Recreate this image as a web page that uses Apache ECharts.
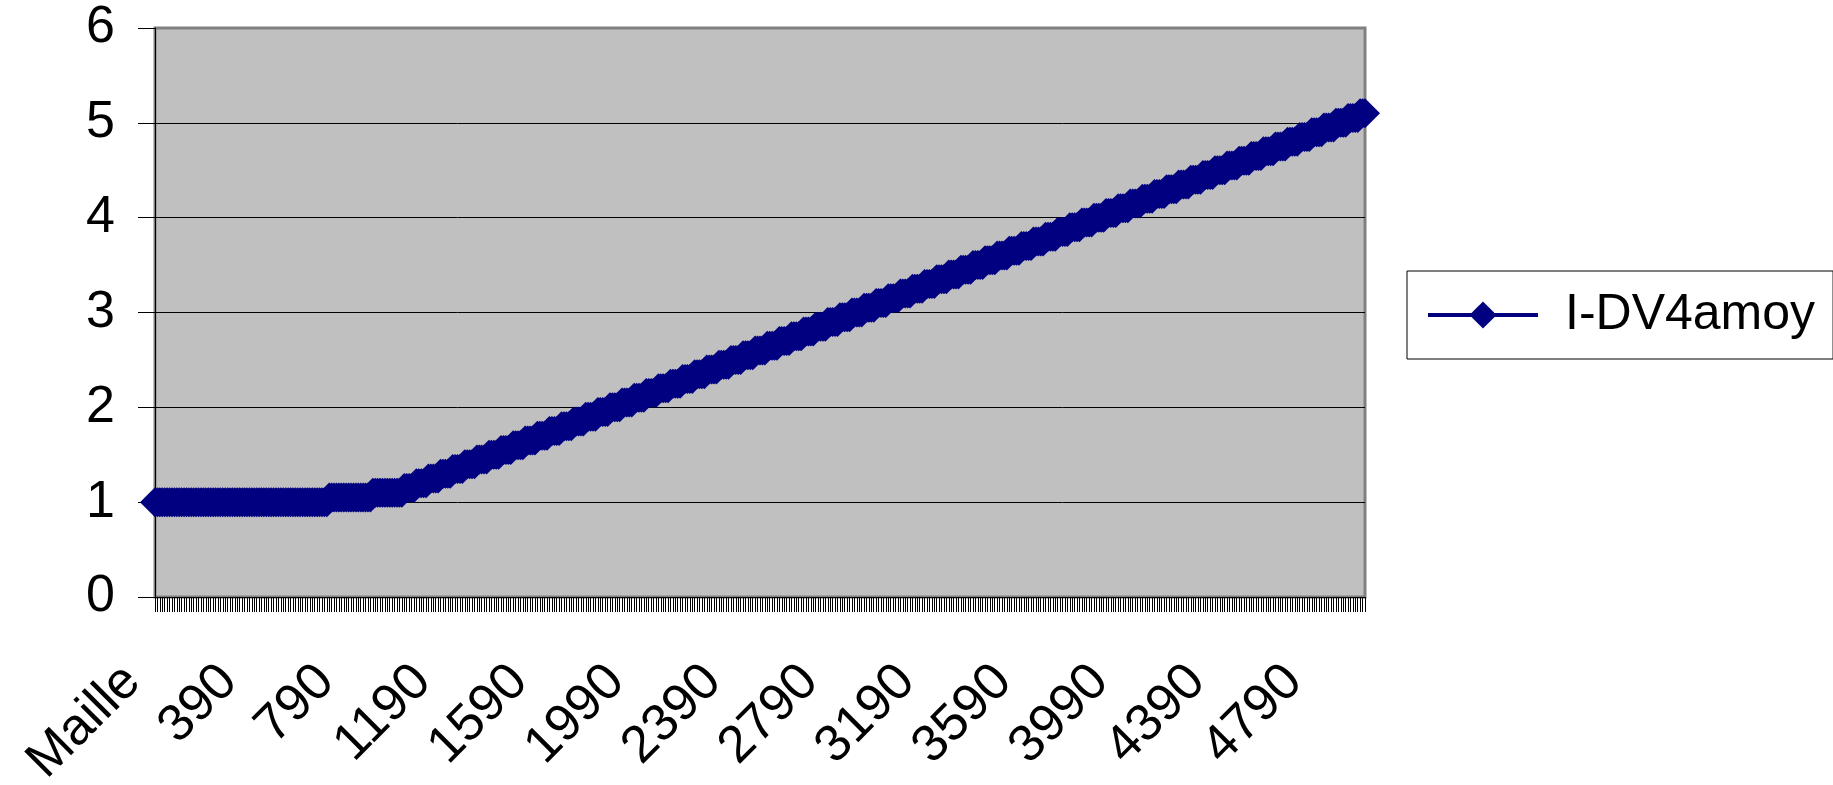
<!DOCTYPE html>
<html>
<head>
<meta charset="utf-8">
<script src="https://cdn.jsdelivr.net/npm/echarts@6/dist/echarts.min.js"></script>
<style>
  html, body { margin: 0; padding: 0; background: #ffffff; }
  #chart { width: 1833px; height: 785px; }
</style>
</head>
<body>
<div id="chart"></div>
<script>
// Mesh positions along the x axis: header cell followed by cells 0, 10, 20 ... 4990
const premiereCategorie = 'Maille';
const pasMaille = 10;
const nbMailles = 500;
const categories = [premiereCategorie];
for (let i = 0; i < nbMailles; i++) categories.push(String(i * pasMaille));

// I-DV4amoy value per mesh cell
const valeurs = [
  1,
  1,1,1,1,1,1,1,1,1,1,
  1,1,1,1,1,1,1,1,1,1,
  1,1,1,1,1,1,1,1,1,1,
  1,1,1,1,1,1,1,1,1,1,
  1,1,1,1,1,1,1,1,1,1,
  1,1,1,1,1,1,1,1,1,1,
  1,1,1,1,1,1,1,1,1,1,
  1,
  1.05,1.05,1.05,1.05,1.05,1.05,1.05,1.05,1.05,1.05,
  1.05,1.05,1.05,1.05,1.05,1.05,1.05,1.05,
  1.1,1.1,1.1,1.1,1.1,1.1,1.1,1.1,1.1,1.1,1.1,1.1,1.1,
  1.15,1.15,1.15,1.15,1.15, 1.2,1.2,1.2,1.2,1.2,
  1.25,1.25,1.25,1.25,1.25, 1.3,1.3,1.3,1.3,1.3,
  1.35,1.35,1.35,1.35,1.35, 1.4,1.4,1.4,1.4,1.4,
  1.45,1.45,1.45,1.45,1.45, 1.5,1.5,1.5,1.5,1.5,
  1.55,1.55,1.55,1.55,1.55, 1.6,1.6,1.6,1.6,1.6,
  1.65,1.65,1.65,1.65,1.65, 1.7,1.7,1.7,1.7,1.7,
  1.75,1.75,1.75,1.75,1.75, 1.8,1.8,1.8,1.8,1.8,
  1.85,1.85,1.85,1.85,1.85, 1.9,1.9,1.9,1.9,1.9,
  1.95,1.95,1.95,1.95,1.95, 2,2,2,2,2,
  2.05,2.05,2.05,2.05,2.05, 2.1,2.1,2.1,2.1,2.1,
  2.15,2.15,2.15,2.15,2.15, 2.2,2.2,2.2,2.2,2.2,
  2.25,2.25,2.25,2.25,2.25, 2.3,2.3,2.3,2.3,2.3,
  2.35,2.35,2.35,2.35,2.35, 2.4,2.4,2.4,2.4,2.4,
  2.45,2.45,2.45,2.45,2.45, 2.5,2.5,2.5,2.5,2.5,
  2.55,2.55,2.55,2.55,2.55, 2.6,2.6,2.6,2.6,2.6,
  2.65,2.65,2.65,2.65,2.65, 2.7,2.7,2.7,2.7,2.7,
  2.75,2.75,2.75,2.75,2.75, 2.8,2.8,2.8,2.8,2.8,
  2.85,2.85,2.85,2.85,2.85, 2.9,2.9,2.9,2.9,2.9,
  2.95,2.95,2.95,2.95,2.95, 3,3,3,3,3,
  3.05,3.05,3.05,3.05,3.05, 3.1,3.1,3.1,3.1,3.1,
  3.15,3.15,3.15,3.15,3.15, 3.2,3.2,3.2,3.2,3.2,
  3.25,3.25,3.25,3.25,3.25, 3.3,3.3,3.3,3.3,3.3,
  3.35,3.35,3.35,3.35,3.35, 3.4,3.4,3.4,3.4,3.4,
  3.45,3.45,3.45,3.45,3.45, 3.5,3.5,3.5,3.5,3.5,
  3.55,3.55,3.55,3.55,3.55, 3.6,3.6,3.6,3.6,3.6,
  3.65,3.65,3.65,3.65,3.65, 3.7,3.7,3.7,3.7,3.7,
  3.75,3.75,3.75,3.75,3.75, 3.8,3.8,3.8,3.8,3.8,
  3.85,3.85,3.85,3.85,3.85, 3.9,3.9,3.9,3.9,3.9,
  3.95,3.95,3.95,3.95,3.95, 4,4,4,4,4,
  4.05,4.05,4.05,4.05,4.05, 4.1,4.1,4.1,4.1,4.1,
  4.15,4.15,4.15,4.15,4.15, 4.2,4.2,4.2,4.2,4.2,
  4.25,4.25,4.25,4.25,4.25, 4.3,4.3,4.3,4.3,4.3,
  4.35,4.35,4.35,4.35,4.35, 4.4,4.4,4.4,4.4,4.4,
  4.45,4.45,4.45,4.45,4.45, 4.5,4.5,4.5,4.5,4.5,
  4.55,4.55,4.55,4.55,4.55, 4.6,4.6,4.6,4.6,4.6,
  4.65,4.65,4.65,4.65,4.65, 4.7,4.7,4.7,4.7,4.7,
  4.75,4.75,4.75,4.75,4.75, 4.8,4.8,4.8,4.8,4.8,
  4.85,4.85,4.85,4.85,4.85, 4.9,4.9,4.9,4.9,4.9,
  4.95,4.95,4.95,4.95,4.95, 5,5,5,5,5,
  5.05,5.05,5.05,5.05,5.05,
  5.1,5.1,5.1
];

const nomSerie = 'I-DV4amoy';
const yMin = 0, yMax = 6, yPas = 1;
const pasEtiquettes = 40;

const police = '"Liberation Sans", Arial, sans-serif';
const bleu = '#000080';
const chart = echarts.init(document.getElementById('chart'), null, { renderer: 'canvas' });

chart.setOption({
  animation: false,
  backgroundColor: '#ffffff',
  textStyle: { fontFamily: police },
  grid: {
    left: 155, right: 468, top: 28, bottom: 188,
    outerBoundsMode: 'none',
    containLabel: false,
    show: true,
    backgroundColor: '#c0c0c0',
    borderColor: '#808080',
    borderWidth: 3
  },
  legend: {
    data: [nomSerie],
    left: 1407, top: 271,
    orient: 'vertical',
    backgroundColor: '#ffffff',
    borderColor: '#000000', borderWidth: 1,
    padding: [18, 18, 18, 19],
    itemWidth: 110, itemHeight: 34,
    lineStyle: { width: 4, color: bleu },
    textStyle: { fontFamily: police, fontSize: 50, color: '#000', padding: [0, 0, 0, 22], lineHeight: 52 }
  },
  xAxis: {
    type: 'category',
    data: categories,
    boundaryGap: false,
    axisLine: { show: true, lineStyle: { color: '#000', width: 1 } },
    axisTick: { show: true, interval: 0, length: 15, lineStyle: { color: '#000', width: 1 } },
    axisLabel: {
      interval: (idx) => idx % pasEtiquettes === 0,
      rotate: 45,
      margin: 54,
      padding: [0, 32, 0, 0],
      fontFamily: police,
      fontSize: 52,
      color: '#000'
    },
    splitLine: { show: false }
  },
  yAxis: {
    type: 'value',
    min: yMin, max: yMax, interval: yPas,
    axisLine: { show: true, lineStyle: { color: '#000', width: 1 } },
    axisTick: { show: true, length: 17, lineStyle: { color: '#000', width: 1 } },
    axisLabel: { margin: 40, fontFamily: police, fontSize: 52, color: '#000' },
    splitLine: {
      show: true,
      lineStyle: { color: ['#000', '#000', '#000', '#000', '#000', '#000', '#808080'], width: 1 }
    }
  },
  series: [{
    name: nomSerie,
    type: 'line',
    data: valeurs,
    symbol: 'diamond',
    symbolSize: [30, 30],
    showAllSymbol: true,
    color: bleu,
    itemStyle: { color: bleu },
    lineStyle: { color: bleu, width: 3 }
  }]
});
</script>
</body>
</html>
